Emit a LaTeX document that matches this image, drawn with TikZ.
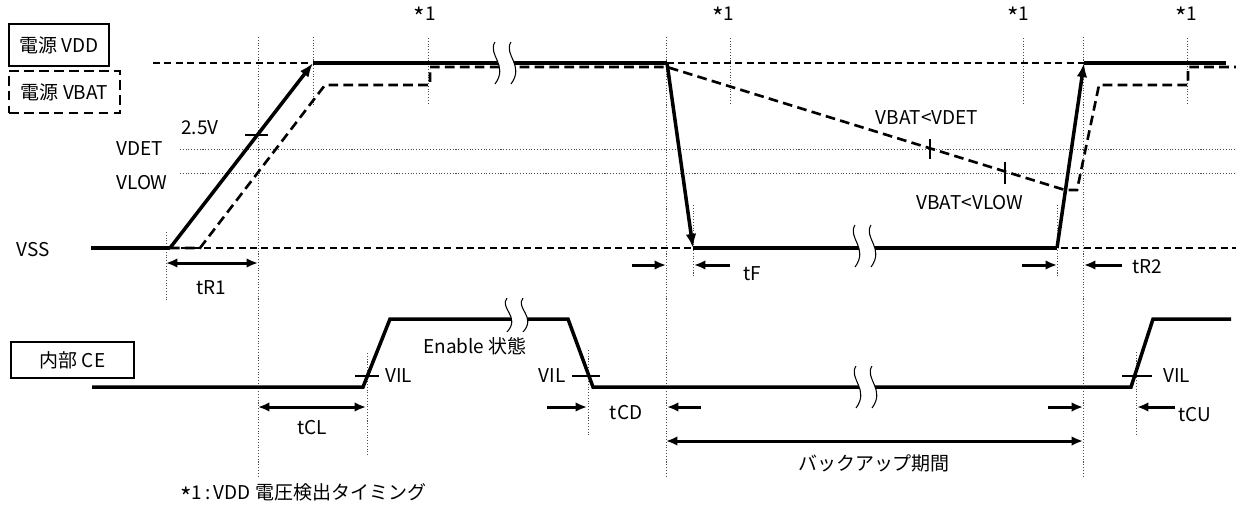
\documentclass[tikz,border=0pt]{standalone}
\usepackage{fontspec}
\setmainfont{Noto Sans CJK JP}
\usetikzlibrary{arrows.meta}
\newcommand{\astk}{\raisebox{-3.6pt}{\fontsize{14}{14}\selectfont *}}
\begin{document}
\begin{tikzpicture}[x=0.02cm,y=-0.02cm,
  every node/.style={font=\fontsize{10.8}{12}\selectfont,inner sep=0pt},
  sig/.style={line width=2pt},
  bat/.style={line width=1.5pt,dash pattern=on 5.5pt off 3pt},
  ref/.style={line width=0.8pt,dash pattern=on 4pt off 2.5pt},
  aux/.style={line width=0.5pt,black!70,dash pattern=on 0.6pt off 1pt},
  lev/.style={sig,-{Latex[length=8pt,width=6pt]}},
  dim/.style={line width=1.7pt,-{Latex[length=6.5pt,width=5.5pt]}},
  dimb/.style={dim,{Latex[length=6.5pt,width=5.5pt]}-{Latex[length=6.5pt,width=5.5pt]}},
  tag/.style={draw,line width=1.6pt,minimum height=0.84cm,inner sep=2pt},
  tick/.style={line width=1.6pt},
  brk/.style={line width=0.6pt}]
\useasboundingbox (0,0) rectangle (1236,515);
\def\yh{63}
\def\yb{85}
\def\yt{67}
\def\yd{149}
\def\yl{173}
\def\ys{248}
\def\ch{319}
\def\cl{387}
\def\brkm#1#2#3{%
  \fill[white] (#1-3,#2-#3) .. controls (#1-11,#2-#3*0.4) and (#1+11,#2+#3*0.1) .. (#1-3,#2+#3)
    -- (#1+13,#2+#3) .. controls (#1+27,#2+#3*0.1) and (#1+5,#2-#3*0.4) .. (#1+13,#2-#3) -- cycle;
  \draw[brk] (#1-3,#2-#3) .. controls (#1-11,#2-#3*0.4) and (#1+11,#2+#3*0.1) .. (#1-3,#2+#3);
  \draw[brk] (#1+13,#2-#3) .. controls (#1+5,#2-#3*0.4) and (#1+27,#2+#3*0.1) .. (#1+13,#2+#3);}

\foreach \x in {428,730,1023,1187} \draw[aux] (\x,38) -- (\x,103);
\foreach \x in {258,666,1083} \draw[aux] (\x,37) -- (\x,477);
\draw[aux] (313,37) -- (313,105);
\draw[aux] (166,232) -- (166,300);
\foreach \x in {693,1057} \draw[aux] (\x,205) -- (\x,278);
\draw[aux] (367,353) -- (367,455);
\draw[aux] (588,350) -- (588,435);
\draw[aux] (1136,352) -- (1136,435);
\draw[aux] (180,\yd) -- (1236,\yd);
\draw[aux] (180,\yl) -- (1236,\yl);

\draw[ref] (153,\yh) -- (1084,\yh);
\draw[ref] (170,\ys) -- (1236,\ys);

\draw[bat] (170,\ys) -- (200,\ys) -- (325,\yb) -- (430,\yb) -- (430,\yt) -- (667,\yt) -- (1065,190)
  -- (1077,190) -- (1099,\yb) -- (1188,\yb) -- (1188,\yt) -- (1236,\yt);

\draw[sig] (91,\ys) -- (170,\ys);
\draw[lev] (170,\ys) -- (313,\yh);
\draw[sig] (313,\yh) -- (667,\yh);
\draw[lev] (667,\yh) -- (693,\ys);
\draw[sig] (693,\ys) -- (1057,\ys);
\draw[lev] (1057,\ys) -- (1084,\yh);
\draw[sig] (1084,\yh) -- (1226,\yh);

\draw[sig] (92,\cl) -- (363,\cl) -- (390,\ch) -- (568,\ch) -- (593,\cl) -- (1131,\cl) -- (1153,\ch) -- (1231,\ch);

\brkm{498}{63}{21}
\brkm{858}{246}{21}
\brkm{510}{315}{17}
\brkm{859}{387}{21}

\draw[tick] (245,135) -- (268,135);
\draw[tick] (930,139) -- (930,159);
\draw[tick] (1005,162) -- (1005,184);
\draw[tick] (355,376) -- (379,376);
\draw[tick] (572,376) -- (600,376);
\draw[tick] (1122,376) -- (1152,376);

\node[tag,minimum width=2cm] (vdd) at (59,45) {電源 VDD};
\node[tag,dash pattern=on 5.5pt off 3pt,minimum width=2.22cm] (vbat) at (64.5,92) {電源 VBAT};
\node[tag,minimum width=2.46cm,minimum height=0.72cm] (ce) at (72.5,360) {内部 CE};

\node (m1) at (425,17) {\astk1};
\node (m2) at (723,17) {\astk1};
\node (m3) at (1018,17) {\astk1};
\node (m4) at (1186,17) {\astk1};
\node (v25) at (200,128) {2.5V};
\node (vdet) at (140,149) {VDET};
\node (vlow) at (142,183) {VLOW};
\node (vss) at (33,250) {VSS};
\node (bdet) at (927,118) {VBAT<VDET};
\node (blow) at (970,203) {VBAT<VLOW};
\node (en) at (475,346) {Enable 状態};
\node[anchor=west] (vil1) at (385,376) {VIL};
\node[anchor=east] (vil2) at (566,376) {VIL};
\node[anchor=west] (vil3) at (1163,376) {VIL};

\coordinate (r1a) at (166,263);
\coordinate (r1b) at (258,263);
\draw[dimb] (r1a) -- (r1b);
\node (tr1) at (211,288) {tR1};

\coordinate (fa) at (632,265);
\coordinate (fb) at (666,265);
\coordinate (fc) at (730,265);
\coordinate (fd) at (694,265);
\draw[dim] (fa) -- (fb);
\draw[dim] (fc) -- (fd);
\node (tf) at (752,274) {tF};

\coordinate (ra) at (1022,265);
\coordinate (rb) at (1057,265);
\coordinate (rc) at (1122,265);
\coordinate (rd) at (1084,265);
\draw[dim] (ra) -- (rb);
\draw[dim] (rc) -- (rd);
\node (tr2) at (1147,267) {tR2};

\coordinate (cla) at (258,407);
\coordinate (clb) at (366,407);
\draw[dimb] (cla) -- (clb);
\node (tcl) at (312,428) {tCL};

\coordinate (cda) at (547,407);
\coordinate (cdb) at (587,407);
\coordinate (cdc) at (701,407);
\coordinate (cdd) at (667,407);
\draw[dim] (cda) -- (cdb);
\draw[dim] (cdc) -- (cdd);
\node (tcd) at (626,413) {tCD};

\coordinate (cua) at (1048,407);
\coordinate (cub) at (1083,407);
\coordinate (cuc) at (1175,407);
\coordinate (cud) at (1137,407);
\draw[dim] (cua) -- (cub);
\draw[dim] (cuc) -- (cud);
\node (tcu) at (1195,415) {tCU};

\coordinate (bka) at (666,441);
\coordinate (bkb) at (1083,441);
\draw[dimb] (bka) -- (bkb);
\node (bk) at (874,463) {バックアップ期間};

\node[anchor=west] (note) at (180,495) {\astk1\,:\,VDD 電圧検出タイミング};
\end{tikzpicture}
\end{document}
